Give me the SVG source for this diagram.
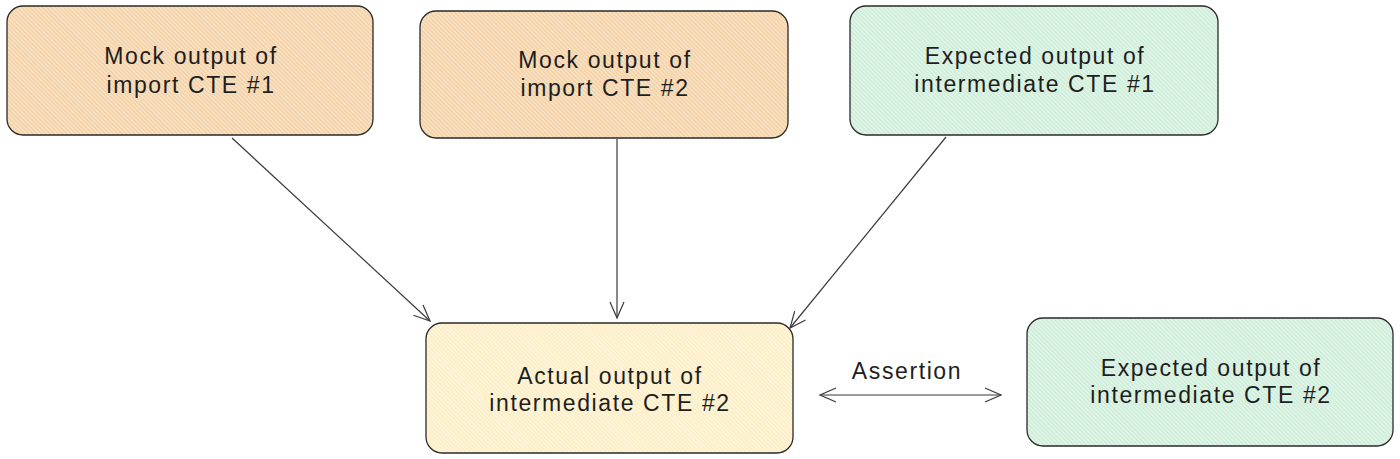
<svg xmlns="http://www.w3.org/2000/svg" width="1400" height="459" viewBox="0 0 1400 459">
<defs>
<pattern id="hatchO" patternUnits="userSpaceOnUse" width="3" height="3" patternTransform="rotate(-45)">
<rect width="3" height="3" fill="#fae4c8"/>
<line x1="0.75" y1="0" x2="0.75" y2="3" stroke="#f2cfa3" stroke-width="1.5"/>
</pattern>
<pattern id="hatchG" patternUnits="userSpaceOnUse" width="3" height="3" patternTransform="rotate(-45)">
<rect width="3" height="3" fill="#e3f6ea"/>
<line x1="0.75" y1="0" x2="0.75" y2="3" stroke="#cbecd7" stroke-width="1.5"/>
</pattern>
<pattern id="hatchY" patternUnits="userSpaceOnUse" width="3" height="3" patternTransform="rotate(-45)">
<rect width="3" height="3" fill="#fef6dd"/>
<line x1="0.75" y1="0" x2="0.75" y2="3" stroke="#fcecc2" stroke-width="1.5"/>
</pattern>
<marker id="arr" viewBox="0 0 20 20" refX="18" refY="10" markerWidth="20" markerHeight="20" markerUnits="userSpaceOnUse" orient="auto-start-reverse">
<path d="M2,3 L18,10 L2,17" fill="none" stroke="#3a3a3a" stroke-width="1.2"/>
</marker>
</defs>
<style>
.box{stroke:#2a2a2a;stroke-width:1.3}
.t{font-family:"Liberation Sans",Arial,sans-serif;font-size:23px;fill:#1e1e1e;text-anchor:middle;letter-spacing:1.6px}
.c{fill:none;stroke:#3a3a3a;stroke-width:1.2}
</style>
<rect width="1400" height="459" fill="#ffffff"/>
<g id="mock1">
<rect class="box" x="7" y="6" width="366" height="129" rx="16" fill="url(#hatchO)"/>
<text class="t" x="191" y="64">Mock output of</text>
<text class="t" x="191" y="93">import CTE #1</text>
</g>
<g id="mock2">
<rect class="box" x="420" y="11" width="368" height="127" rx="16" fill="url(#hatchO)"/>
<text class="t" x="605" y="68">Mock output of</text>
<text class="t" x="605" y="96">import CTE #2</text>
</g>
<g id="expected1">
<rect class="box" x="850" y="6" width="368" height="129" rx="16" fill="url(#hatchG)"/>
<text class="t" x="1035" y="64">Expected output of</text>
<text class="t" x="1035" y="92">intermediate CTE #1</text>
</g>
<g id="actual2">
<rect class="box" x="426" y="323" width="367" height="130" rx="16" fill="url(#hatchY)"/>
<text class="t" x="610" y="384">Actual output of</text>
<text class="t" x="610" y="411">intermediate CTE #2</text>
</g>
<g id="expected2">
<rect class="box" x="1027" y="318" width="366" height="128" rx="16" fill="url(#hatchG)"/>
<text class="t" x="1211" y="376">Expected output of</text>
<text class="t" x="1211" y="403">intermediate CTE #2</text>
</g>
<g id="connectors">
<line class="c" x1="232" y1="138" x2="430" y2="321" marker-end="url(#arr)"/>
<line class="c" x1="617" y1="139" x2="617" y2="318" marker-end="url(#arr)"/>
<line class="c" x1="946" y1="137" x2="790" y2="328" marker-end="url(#arr)"/>
<line class="c" x1="820" y1="395" x2="1001" y2="395" marker-start="url(#arr)" marker-end="url(#arr)"/>
<text class="t" x="907" y="379">Assertion</text>
</g>
</svg>
